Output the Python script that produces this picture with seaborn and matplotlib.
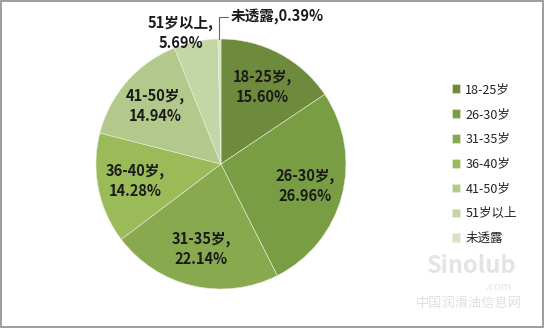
import numpy as np
import matplotlib
matplotlib.use("Agg")
import matplotlib.pyplot as plt
import seaborn as sns

categories = ["18-25岁", "26-30岁", "31-35岁", "36-40岁", "41-50岁", "51岁以上", "未透露"]
values = [15.60, 26.96, 22.14, 14.28, 14.94, 5.69, 0.39]
pct_labels = ["15.60%", "26.96%", "22.14%", "14.28%", "14.94%", "5.69%", "0.39%"]
colors = ["#6e8b3d", "#789d43", "#89a94f", "#9bbb59", "#b2c98b", "#c5d6a6", "#d8e4c3"]

sns.set_theme(style="white")
plt.rcParams['font.family'] = ['Noto Sans CJK SC', 'DejaVu Sans']

fig = plt.figure(figsize=(5.45, 3.28), dpi=100)
fig.patch.set_facecolor("white")
ax = fig.add_axes([0.0, 0.0, 0.82, 1.0])

wedges, _ = ax.pie(values, colors=colors, startangle=90, counterclock=False,
                   radius=1.0, center=(0, 0),
                   wedgeprops=dict(linewidth=0.4, edgecolor="#e8eedd"))
ax.set_xlim(-1.768, 1.808)
ax.set_ylim(-1.312, 1.312)
ax.set_aspect("equal", adjustable="datalim")
ax.axis("off")

txt = dict(fontsize=10.5, fontweight="bold", color="#1a1a1a", ha="center", va="center")
for i, w in enumerate(wedges[:5]):
    ang = np.deg2rad((w.theta1 + w.theta2) / 2)
    r = 0.70
    ax.text(r * np.cos(ang), r * np.sin(ang), f"{categories[i]},\n{pct_labels[i]}",
            linespacing=1.3, **txt)

# small slices
ax.text(-0.32, 1.05, f"{categories[5]},\n{pct_labels[5]}", linespacing=1.3, **txt)
w = wedges[6]
ang = np.deg2rad((w.theta1 + w.theta2) / 2)
ax.annotate(f"{categories[6]},{pct_labels[6]}", xy=(np.cos(ang) * 1.0, np.sin(ang) * 1.0),
            xytext=(0.08, 1.18), fontsize=10.5, fontweight="bold", color="#1a1a1a",
            ha="left", va="center",
            arrowprops=dict(arrowstyle="-", color="#666666", lw=0.8,
                            connectionstyle="angle,angleA=0,angleB=90,rad=0",
                            shrinkA=0, shrinkB=0))

leg = fig.legend(wedges, categories, loc="center left", bbox_to_anchor=(0.808, 0.5),
                 frameon=False, fontsize=9, handlelength=0.7, handleheight=0.7,
                 handletextpad=0.4, labelspacing=0.95)
for t in leg.get_texts():
    t.set_color("#222222")

# watermark
fig.text(0.865, 0.19, "Sinolub", fontsize=17, fontweight="bold", style="italic",
         color="#e4e4e4", ha="center", va="center")
fig.text(0.915, 0.125, ".com", fontsize=8, style="italic", color="#e4e4e4",
         ha="center", va="center")
fig.text(0.86, 0.075, "中国润滑油信息网", fontsize=9.5, color="#e0e0e0",
         ha="center", va="center")

# outer frame
fig.add_artist(plt.Rectangle((0.002, 0.003), 0.995, 0.994, transform=fig.transFigure,
                             fill=False, edgecolor="#8c8c8c", linewidth=1.2))

fig.savefig("out.png", dpi=100)
